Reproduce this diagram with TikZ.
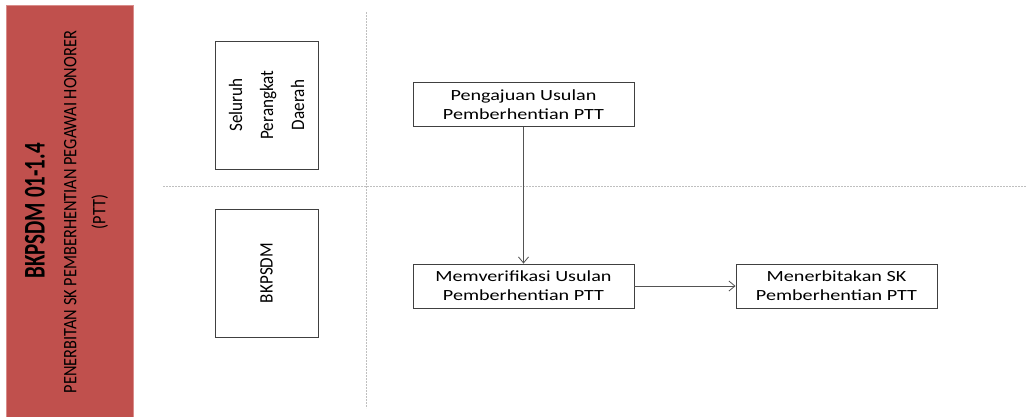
\documentclass[tikz,border=0pt]{standalone}
\usepackage{fontspec}
\setmainfont{Carlito}
\newfontfamily\condfont[FakeStretch=0.7]{Carlito}
\newfontfamily\subfont[FakeStretch=0.86]{Carlito}
\newfontfamily\lanefont[FakeStretch=0.9]{Carlito}
\newfontfamily\boxfont[FakeStretch=1.3]{Carlito}
\usetikzlibrary{arrows.meta}
\definecolor{bannerred}{HTML}{C0504D}
\definecolor{banneredge}{HTML}{D98C8A}
\definecolor{gridgray}{HTML}{BFBFBF}
\definecolor{linegray}{HTML}{404040}
\tikzset{
  lanebox/.style={draw=linegray, line width=0.9pt, minimum width=103pt, minimum height=128pt, inner sep=0pt},
  lanetext/.style={rotate=90, align=center, font=\lanefont\fontsize{19}{31}\selectfont},
  procbox/.style={draw=linegray, line width=0.9pt, minimum height=44pt, inner sep=0pt, align=center,
     font=\boxfont\fontsize{15.5}{19}\selectfont},
  flow/.style={draw=linegray!90, line width=0.8pt, -{Straight Barb[length=6pt,width=10pt]}},
  gridline/.style={draw=gridgray, line width=0.8pt, dash pattern=on 2pt off 1pt}
}
\begin{document}
\begin{tikzpicture}[x=1pt,y=-1pt]
\useasboundingbox (0,0) rectangle (1026,416);
% banner
\node[draw=banneredge, fill=bannerred, line width=0.8pt, minimum width=127pt, minimum height=413pt, anchor=north west, inner sep=0pt] (banner) at (6,5) {};
\node[rotate=90, font=\condfont\bfseries\fontsize{30}{36}\selectfont] (title) at (35,211) {BKPSDM 01-1.4};
\node[rotate=90, font=\subfont\fontsize{19}{24}\selectfont, align=center] (subtitle) at (86,212) {PENERBITAN SK PEMBERHENTIAN PEGAWAI HONORER\\[5pt](PTT)};
% grid lines
\coordinate (vtop) at (366,12);
\coordinate (vbot) at (366,408);
\coordinate (hl) at (163,186);
\coordinate (hr) at (1026,186);
\draw[gridline] (vtop) -- (vbot);
\draw[gridline] (hl) -- (hr);
% lanes
\node[lanebox] (lane1) at (266.5,105) {};
\node[lanetext] (lane1t) at (lane1.center) {Seluruh\\Perangkat\\Daerah};
\node[lanebox] (lane2) at (266.5,273) {};
\node[lanetext] (lane2t) at (lane2.center) {BKPSDM};
% process boxes
\node[procbox, minimum width=221pt] (p1) at (523.5,104.5) {Pengajuan Usulan\\Pemberhentian PTT};
\node[procbox, minimum width=221pt] (p2) at (523.5,286) {Memverifikasi Usulan\\Pemberhentian PTT};
\node[procbox, minimum width=201pt] (p3) at (836.5,286) {Menerbitakan SK\\Pemberhentian PTT};
\draw[flow] (p1) -- (p2);
\draw[flow] (p2) -- (p3);
\end{tikzpicture}
\end{document}
